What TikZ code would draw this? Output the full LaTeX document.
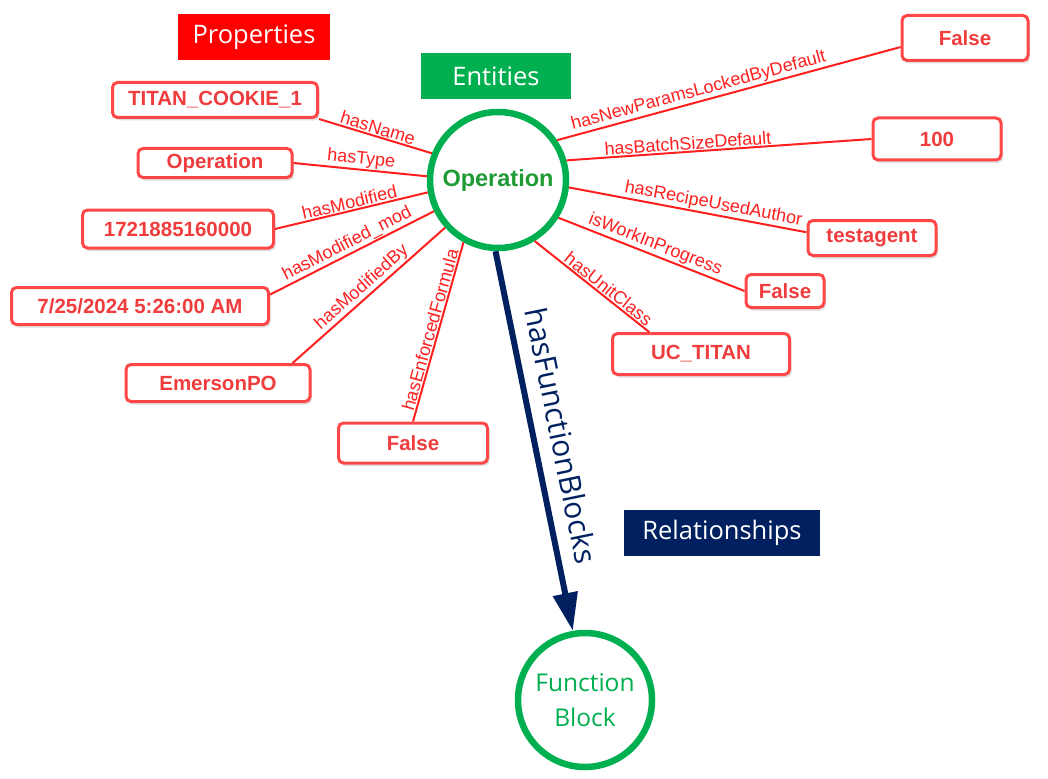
\documentclass[tikz,border=0pt]{standalone}
\usepackage{fontspec}
\setmainfont{Liberation Sans}
\newfontfamily\segoe{Open Sans}
\usetikzlibrary{arrows.meta,shadows}

\tikzset{
  header/.style = {text = white, font = \segoe\fontsize{25.5}{28}\selectfont,
    minimum height = 46pt, inner sep = 0pt},
  valuebox/.style = {draw = boxRed, line width = 3pt, rounded corners = 5pt,
    fill = white, text = textRed, font = \bfseries\fontsize{20.5}{24}\selectfont,
    inner sep = 0pt,
    drop shadow = {opacity = 0.25, shadow xshift = 2pt, shadow yshift = -3pt}},
  prop/.style = {draw = lineRed, line width = 2pt},
  proplabel/.style = {midway, sloped, above, text = lineRed,
    font = \fontsize{18}{20}\selectfont, inner sep = 1pt},
  entity/.style = {circle, draw = entGreen, line width = 6.5pt, fill = white,
    inner sep = 0pt},
  relation/.style = {draw = relBlue, line width = 6pt,
    -{Triangle[length = 38pt, width = 24pt]}}
}

\begin{document}
\begin{tikzpicture}[x = 1pt, y = -1pt]
  \definecolor{propRed}{HTML}{FF0000}
  \definecolor{lineRed}{HTML}{FF1F1F}
  \definecolor{boxRed}{HTML}{FF4747}
  \definecolor{textRed}{HTML}{F03C3C}
  \definecolor{entGreen}{HTML}{00B050}
  \definecolor{opGreen}{HTML}{1E9B35}
  \definecolor{relBlue}{HTML}{002060}

  \useasboundingbox (0, 0) rectangle (1048, 778);

  \node[header, fill = propRed, minimum width = 152pt] (properties) at (254, 37) {Properties};
  \node[header, fill = entGreen, minimum width = 150pt] (entities) at (496, 76) {Entities};
  \node[header, fill = relBlue, minimum width = 196pt] (relationships) at (722, 533) {Relationships};

  \node[entity, minimum size = 136pt, text = opGreen, font = \bfseries\fontsize{23.5}{26}\selectfont]
    (op) at (498, 180) {Operation};
  \node[entity, minimum size = 134pt, text = entGreen, align = center,
    font = \segoe\fontsize{24.5}{35}\selectfont] (fb) at (585, 700) {Function\\Block};

  \node[valuebox, minimum width = 205pt, minimum height = 35pt] (name) at (215, 100) {TITAN\_COOKIE\_1};
  \node[valuebox, minimum width = 154pt, minimum height = 29pt] (type) at (215, 163) {Operation};
  \node[valuebox, minimum width = 191pt, minimum height = 38pt] (modified) at (178, 229) {1721885160000};
  \node[valuebox, minimum width = 257pt, minimum height = 37pt] (modmod) at (140, 306) {7/25/2024 5:26:00 AM};
  \node[valuebox, minimum width = 184pt, minimum height = 37pt] (modby) at (218, 383) {EmersonPO};
  \node[valuebox, minimum width = 149pt, minimum height = 40pt] (formula) at (413, 443) {False};
  \node[valuebox, minimum width = 126pt, minimum height = 45pt] (locked) at (965, 38) {False};
  \node[valuebox, minimum width = 128pt, minimum height = 42pt] (batch) at (937, 139) {100};
  \node[valuebox, minimum width = 128pt, minimum height = 35pt] (author) at (872, 238) {testagent};
  \node[valuebox, minimum width = 78pt, minimum height = 33pt] (progress) at (785, 291) {False};
  \node[valuebox, minimum width = 177pt, minimum height = 41pt] (unit) at (701, 354) {UC\_TITAN};

  \draw[prop] (name.south east) -- (op.158) node[proplabel] {hasName};
  \draw[prop] (type.east) -- (op.177) node[proplabel] {hasType};
  \draw[prop] (modified.east) -- (op.190) node[proplabel] {hasModified};
  \draw[prop] (modmod.5) -- (op.206) node[proplabel] {hasModified\_mod};
  \draw[prop] (modby.15) -- (op.222) node[proplabel] {hasModifiedBy};
  \draw[prop] (formula.north) -- (op.241) node[proplabel] {hasEnforcedFormula};
  \draw[prop] (op.34) -- (locked.188) node[proplabel, pos = 0.42] {hasNewParamsLockedByDefault};
  \draw[prop] (op.16) -- (batch.west) node[proplabel, pos = 0.4] {hasBatchSizeDefault};
  \draw[prop] (op.354) -- (author.175) node[proplabel, pos = 0.6] {hasRecipeUsedAuthor};
  \draw[prop] (op.328) -- (progress.west) node[proplabel] {isWorkInProgress};
  \draw[prop] (op.301) -- (unit.157) node[proplabel, pos = 0.6] {hasUnitClass};

  \draw[relation] (op.268) -- (fb.100)
    node[midway, sloped, above = 10pt, text = relBlue, font = \segoe\fontsize{30}{32}\selectfont] {hasFunctionBlocks};
\end{tikzpicture}
\end{document}
